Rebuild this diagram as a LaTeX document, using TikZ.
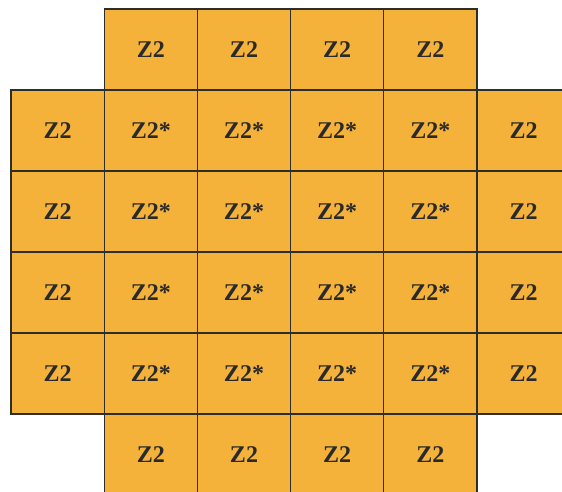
\documentclass[tikz,border=0pt]{standalone}
\usepackage{fontspec}
\setmainfont{Liberation Serif}
\usetikzlibrary{positioning}
\definecolor{cellfill}{HTML}{F4B23A}
\definecolor{cellline}{HTML}{2E2E28}
\definecolor{celltext}{HTML}{2A2A2A}

\begin{document}
\begin{tikzpicture}[x=1pt, y=-1pt,
      cell/.style={draw=cellline, fill=cellfill, line width=1.3pt, inner sep=0pt, outer sep=0pt,
                   minimum width=93.2pt, minimum height=81pt, text=celltext,
                   font=\bfseries\fontsize{24}{24}\selectfont}]
    \clip (0,0) rectangle (562,492);
    % inner block
    \foreach \r in {1,...,4}
      \foreach \c in {1,...,4}
        \node[cell] (in-\r-\c) at (57.6+93.2*\c, 49.5+81*\r) {Z2*};
    % top and bottom rows
    \foreach \c in {1,...,4} {
      \node[cell] (top-\c) at (57.6+93.2*\c, 49.5) {Z2};
      \node[cell] (bot-\c) at (57.6+93.2*\c, 49.5+81*5) {Z2};
    }
    % left and right columns
    \foreach \r in {1,...,4} {
      \node[cell] (lft-\r) at (57.6, 49.5+81*\r) {Z2};
      \node[cell] (rgt-\r) at (57.6+93.2*5, 49.5+81*\r) {Z2};
    }
  \end{tikzpicture}
\end{document}
